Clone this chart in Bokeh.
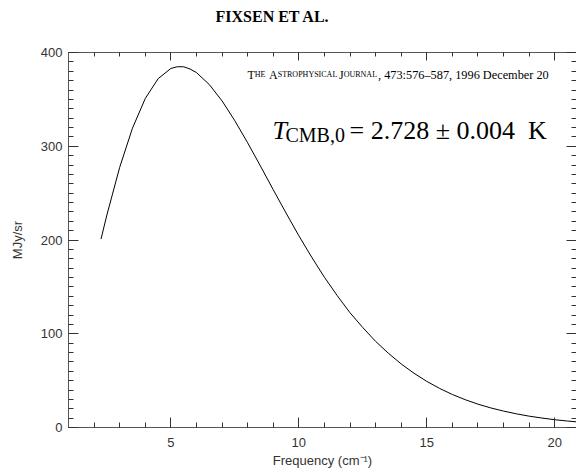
from bokeh.plotting import figure
from bokeh.models import Label, LinearAxis, SingleIntervalTicker, Range1d, CustomJSTickFormatter
from bokeh.embed import file_html
from bokeh.resources import INLINE

# Spectrum (frequency in cm^-1, intensity in MJy/sr)
freq = [2.27, 2.5, 3.0, 3.5, 4.0, 4.5, 5.0, 5.25, 5.5, 5.75, 6.0, 6.5, 7.0, 7.5,
        8.0, 8.5, 9.0, 9.5, 10.0, 10.5, 11.0, 11.5, 12.0, 12.5, 13.0, 13.5, 14.0,
        14.5, 15.0, 15.5, 16.0, 16.5, 17.0, 17.5, 18.0, 18.5, 19.0, 19.5, 20.0,
        20.5, 21.0]
intensity = [201.0, 226.7, 277.5, 319.3, 351.0, 372.0, 383.0, 384.8, 384.8, 382.4,
             378.6, 365.9, 348.4, 327.2, 303.7, 278.9, 253.6, 228.8, 204.6, 181.8,
             160.3, 140.7, 122.4, 106.6, 91.9, 79.2, 67.8, 57.9, 49.2, 41.7, 35.2,
             29.7, 24.9, 20.9, 17.5, 14.6, 12.1, 10.1, 8.3, 6.9, 5.7]

title_text = "FIXSEN ET AL."
x_label = "Frequency (cm\u207b\u00b9)"
y_label = "MJy/sr"

X0, X1 = 1.0, 20.85
Y0, Y1 = 0.0, 400.0
FL, FR, FT, FB = 68, 576, 52, 427

p = figure(width=576, height=474, output_backend="svg", toolbar_location=None,
           x_range=Range1d(X0, X1), y_range=Range1d(Y0, Y1),
           x_axis_location=None, y_axis_location=None,
           min_border_left=FL, min_border_right=0, min_border_top=FT,
           min_border_bottom=474 - FB)
p.outline_line_color = None
p.grid.grid_line_color = None
p.background_fill_color = "white"
p.border_fill_color = "white"

p.title.text = title_text + "\n "
p.title.align = "left"
p.title.offset = 147
p.title.standoff = 0
p.title.text_line_height = 1.6
p.title.text_font = "Liberation Serif"
p.title.text_font_size = "16px"
p.title.text_font_style = "bold"
p.title.text_color = "black"

TICKC = "#333333"
LABC = "#333333"
SANS = "Liberation Sans"


def style(ax, labels=True, tin=10, mtin=5):
    ax.axis_line_color = "#555555"
    ax.axis_line_width = 1
    ax.major_tick_in = tin
    ax.major_tick_out = 0
    ax.minor_tick_in = mtin
    ax.minor_tick_out = 0
    ax.major_tick_line_color = TICKC
    ax.minor_tick_line_color = TICKC
    ax.major_label_text_font = SANS
    ax.major_label_text_color = LABC
    ax.axis_label_text_font = SANS
    ax.axis_label_text_color = LABC
    ax.axis_label_text_font_style = "normal"
    ax.axis_label_text_font_size = "13px"
    if labels:
        ax.major_label_text_font_size = "13px"
    else:
        ax.formatter = CustomJSTickFormatter(code="return ''")
        ax.major_label_text_font_size = "1px"
        ax.major_label_standoff = 0


xt = SingleIntervalTicker(interval=5, num_minor_ticks=5)
yt = SingleIntervalTicker(interval=100, num_minor_ticks=10)

bottom = LinearAxis(ticker=xt, axis_label=x_label)
style(bottom)
bottom.major_label_standoff = 10
bottom.axis_label_standoff = 3
p.add_layout(bottom, "below")

left = LinearAxis(ticker=yt, axis_label=y_label)
style(left)
left.major_label_standoff = 6
left.axis_label_standoff = 13
p.add_layout(left, "left")

top = LinearAxis(ticker=SingleIntervalTicker(interval=5, num_minor_ticks=5))
style(top, labels=False, tin=8, mtin=4)
p.add_layout(top, "above")

right = LinearAxis(ticker=SingleIntervalTicker(interval=100, num_minor_ticks=10))
style(right, labels=False, tin=10, mtin=5)
right.axis_line_color = None
p.add_layout(right, "right")

p.line(freq, intensity, line_color="black", line_width=1)

sx = (FR - FL) / (X1 - X0)
sy = (FB - FT) / (Y1 - Y0)


def X(px):
    return X0 + (px - FL) / sx


def Y(py):
    return Y0 + (FB - py) / sy


def lab(px, py, text, size, font="Liberation Serif", style="normal",
        align="left", baseline="alphabetic", color="black"):
    p.add_layout(Label(x=X(px), y=Y(py), text=text, text_font=font,
                       text_font_size=size, text_font_style=style,
                       text_align=align, text_baseline=baseline,
                       text_color=color))


# journal line with small caps
JB = 74
lab(247, JB, "T", "12px")
lab(254.3, JB, "HE", "8px")
lab(268.5, JB, "A", "12px")
lab(277.2, JB, "STROPHYSICAL", "8px")
lab(338.5, JB, "J", "12px")
lab(343.2, JB, "OURNAL", "8px")
lab(377.5, JB, ", 473:576\u2013587, 1996 December 20", "12.3px")

# formula
FB0 = 130
lab(272, FB0, "T", "26px", style="italic")
lab(285, FB0 + 4, "CMB,0", "20px")
lab(349, FB0, "= 2.728 \u00b1 0.004\u00a0 K", "26px")

open("out.html", "w").write(file_html(p, INLINE))
